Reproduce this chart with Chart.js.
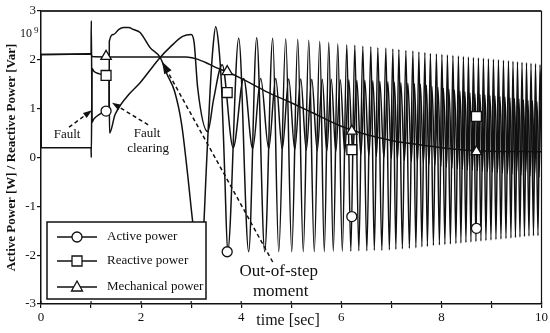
<!DOCTYPE html>
<html lang="en">
<head>
<meta charset="UTF-8" />
<title>Active / Reactive / Mechanical power</title>
<script src="https://cdn.jsdelivr.net/npm/chart.js"></script>
<style>
  html, body { margin: 0; padding: 0; background: #fff; }
  canvas { display: block; }
</style>
</head>
<body>
<canvas id="powerChart" width="550" height="333"></canvas>
<script>
// ---- data (values in 10^9) ----
const timeActive = [
  0, 1.0, 1.005, 1.02, 1.05, 1.12, 1.22, 1.3, 1.36, 1.365,
  1.45, 1.55, 1.65, 1.75, 1.85, 1.98, 2.18, 2.38, 2.52, 2.67,
  2.81, 2.93, 3.03, 3.1, 3.17, 3.24, 3.3, 3.38, 3.44, 3.49,
  3.55, 3.61, 3.67, 3.73,
  3.95, 4.15, 4.31, 4.47, 4.63, 4.75, 4.89, 5.01, 5.13, 5.24,
  5.35, 5.46, 5.57, 5.66, 5.75, 5.84, 5.93, 6.02, 6.11, 6.19,
  6.27, 6.35, 6.43, 6.51, 6.59, 6.66, 6.73, 6.81, 6.89, 6.96,
  7.03, 7.09, 7.15, 7.22, 7.29, 7.36, 7.43, 7.49, 7.55, 7.61,
  7.67, 7.72, 7.78, 7.84, 7.90, 7.96, 8.01, 8.07, 8.12, 8.18,
  8.23, 8.29, 8.34, 8.39, 8.44, 8.49, 8.54, 8.59, 8.64, 8.69,
  8.74, 8.79, 8.84, 8.89, 8.94, 8.99, 9.04, 9.09, 9.14, 9.19,
  9.24, 9.29, 9.34, 9.39, 9.43, 9.48, 9.52, 9.57, 9.61, 9.66,
  9.70, 9.75, 9.79, 9.84, 9.88, 9.93, 9.97, 10
];
const active = [
  2.11, 2.13, 2.8, 0.72, 0.78, 0.85, 0.92, 0.97, 1.0, 2.38,
  2.52, 2.62, 2.66, 2.66, 2.62, 2.56, 2.25, 2.05, 1.7, 1.35,
  0.68, -0.35, -1.31, -1.85, -1.92, -1.6, -0.3, 1.4, 2.3, 2.68,
  2.3, 1.4, -0.3, -1.93,
  2.44, -1.93, 2.45, -1.93, 2.44, -1.93, 2.43, -1.93, 2.42, -1.93,
  2.40, -1.93, 2.38, -1.93, 2.36, -1.92, 2.33, -1.92, 2.31, -1.92,
  2.30, -1.91, 2.28, -1.91, 2.27, -1.90, 2.25, -1.90, 2.24, -1.89,
  2.22, -1.88, 2.21, -1.87, 2.19, -1.86, 2.18, -1.85, 2.16, -1.83,
  2.15, -1.82, 2.13, -1.80, 2.12, -1.79, 2.11, -1.78, 2.10, -1.77,
  2.09, -1.76, 2.08, -1.75, 2.07, -1.74, 2.06, -1.73, 2.05, -1.72,
  2.04, -1.71, 2.03, -1.70, 2.02, -1.69, 2.01, -1.68, 2.00, -1.67,
  1.99, -1.66, 1.98, -1.65, 1.97, -1.64, 1.96, -1.63, 1.95, -1.62,
  1.94, -1.61, 1.93, -1.60, 1.92, -1.60, 1.90, 0.60
];

const timeReactive = [
  0, 0.005, 1.0, 1.005, 1.02, 1.06, 1.15, 1.3, 1.36, 1.37,
  1.48, 1.72, 1.98, 2.24, 2.38, 2.57, 2.83, 3.0, 3.06, 3.13,
  3.33, 3.45, 3.62,
  3.84, 4.05, 4.23, 4.39, 4.55, 4.69, 4.82, 4.95, 5.07, 5.19,
  5.30, 5.41, 5.52, 5.62, 5.71, 5.80, 5.89, 5.98, 6.07, 6.15,
  6.23, 6.31, 6.39, 6.47, 6.55, 6.63, 6.70, 6.77, 6.85, 6.93,
  7.00, 7.06, 7.12, 7.19, 7.26, 7.33, 7.40, 7.46, 7.52, 7.58,
  7.64, 7.70, 7.75, 7.81, 7.87, 7.93, 7.99, 8.04, 8.10, 8.15,
  8.21, 8.26, 8.32, 8.37, 8.42, 8.47, 8.52, 8.57, 8.62, 8.67,
  8.72, 8.77, 8.82, 8.87, 8.92, 8.97, 9.02, 9.07, 9.12, 9.17,
  9.22, 9.27, 9.32, 9.37, 9.41, 9.46, 9.50, 9.55, 9.59, 9.64,
  9.68, 9.73, 9.77, 9.82, 9.86, 9.91, 9.95, 9.99, 10
];
const reactive = [
  2.11, 0.2, 0.2, 0.0, 1.82, 1.76, 1.72, 1.68, 1.62, 0.5,
  0.88, 1.25, 1.53, 1.87, 2.05, 2.25, 2.48, 2.52, 2.35, 1.43,
  0.53, 1.2, 1.9,
  0.20, 1.62, 0.18, 1.62, 0.18, 1.62, 0.17, 1.61, 0.16, 1.61,
  0.15, 1.60, 0.14, 1.60, 0.13, 1.60, 0.12, 1.59, 0.10, 1.59,
  0.08, 1.58, 0.06, 1.58, 0.04, 1.57, 0.02, 1.56, 0.00, 1.55,
  -0.02, 1.54, -0.04, 1.53, -0.06, 1.52, -0.08, 1.51, -0.10, 1.50,
  -0.12, 1.48, -0.14, 1.46, -0.16, 1.44, -0.18, 1.42, -0.20, 1.40,
  -0.22, 1.38, -0.23, 1.36, -0.24, 1.34, -0.25, 1.32, -0.26, 1.30,
  -0.27, 1.29, -0.28, 1.28, -0.29, 1.27, -0.30, 1.26, -0.31, 1.25,
  -0.32, 1.24, -0.33, 1.22, -0.34, 1.21, -0.35, 1.20, -0.36, 1.18,
  -0.37, 1.17, -0.38, 1.16, -0.39, 1.14, -0.40, 1.12, 1.0
];

const timeMech = [0, 1.0, 1.02, 1.36, 2.9, 3.1, 3.3, 3.5, 3.75, 4.0, 4.5, 5.0, 5.5, 6.0, 6.5, 7.0, 7.5, 8.0, 8.5, 9.0, 10];
const mechanical = [2.11, 2.12, 2.07, 2.06, 2.06, 2.02, 1.94, 1.84, 1.74, 1.62, 1.35, 1.12, 0.88, 0.64, 0.47, 0.35, 0.27, 0.2, 0.15, 0.13, 0.12];

// marker positions
const markerTime = [1.3, 3.72, 6.21, 8.7];
const activeMarks = [0.95, -1.93, -1.21, -1.45];
const reactiveMarks = [1.68, 1.33, 0.16, 0.84];
const mechMarks = [2.07, 1.76, 0.54, 0.12];

const xTicks = [0, 2, 4, 6, 8, 10];
const legendNames = ['Active power', 'Reactive power', 'Mechanical power'];

const SERIF = "'Liberation Serif', 'Times New Roman', serif";

function pts(ts, vs) { return ts.map((t, i) => ({ x: t, y: vs[i] })); }

const lineStyle = {
  borderColor: '#111', borderWidth: 1.5, pointRadius: 0,
  cubicInterpolationMode: 'monotone', fill: false, order: 1
};
const markStyle = {
  showLine: false, pointBackgroundColor: '#fff', pointBorderColor: '#111',
  pointBorderWidth: 1.3, order: 0
};

function arrow(ctx, x1, y1, x2, y2, head) {
  ctx.save();
  ctx.setLineDash([4, 3]);
  ctx.lineWidth = 1.5;
  const ang = Math.atan2(y2 - y1, x2 - x1);
  const ex = x2 - Math.cos(ang) * head * 0.8, ey = y2 - Math.sin(ang) * head * 0.8;
  ctx.beginPath(); ctx.moveTo(x1, y1); ctx.lineTo(ex, ey); ctx.stroke();
  ctx.setLineDash([]);
  ctx.beginPath();
  ctx.moveTo(x2, y2);
  ctx.lineTo(x2 - Math.cos(ang) * head + Math.sin(ang) * head * 0.35, y2 - Math.sin(ang) * head - Math.cos(ang) * head * 0.35);
  ctx.lineTo(x2 - Math.cos(ang) * head - Math.sin(ang) * head * 0.35, y2 - Math.sin(ang) * head + Math.cos(ang) * head * 0.35);
  ctx.closePath(); ctx.fill();
  ctx.restore();
}

const overlay = {
  id: 'overlay',
  afterDraw(chart) {
    const { ctx, chartArea: a, scales: { x, y } } = chart;
    const X = v => x.getPixelForValue(v), Y = v => y.getPixelForValue(v);
    ctx.save();
    ctx.fillStyle = '#111'; ctx.strokeStyle = '#111';

    // frame: top and right
    ctx.strokeStyle = '#333'; ctx.lineWidth = 2;
    ctx.beginPath(); ctx.moveTo(a.left, a.top); ctx.lineTo(a.right, a.top); ctx.stroke();
    ctx.strokeStyle = '#111'; ctx.lineWidth = 1.2;
    ctx.beginPath(); ctx.moveTo(a.right, a.top); ctx.lineTo(a.right, a.bottom); ctx.stroke();

    // small ticks reaching into the plot on the x axis
    ctx.lineWidth = 1.2;
    for (let t = 0; t <= 10; t++) {
      ctx.beginPath(); ctx.moveTo(X(t), a.bottom); ctx.lineTo(X(t), a.bottom - 3); ctx.stroke();
    }

    // 10^9 exponent
    ctx.textBaseline = 'alphabetic';
    ctx.textAlign = 'right';
    ctx.font = '12px ' + SERIF;
    ctx.fillText('10', 32, 37);
    ctx.textAlign = 'left';
    ctx.font = '9px ' + SERIF;
    ctx.fillText('9', 34, 33);

    // annotations
    ctx.textAlign = 'center'; ctx.textBaseline = 'middle';
    ctx.font = '13px ' + SERIF;
    ctx.fillText('Fault', X(0.52), Y(0.46));
    ctx.fillText('Fault', X(2.12), Y(0.50));
    ctx.fillText('clearing', X(2.14), Y(0.19));
    arrow(ctx, X(0.56), Y(0.62), X(1.02), Y(0.97), 9);
    arrow(ctx, X(2.14), Y(0.67), X(1.42), Y(1.12), 9);
    ctx.font = '17px ' + SERIF;
    ctx.fillText('Out-of-step', X(4.75), Y(-2.34));
    ctx.fillText('moment', X(4.79), Y(-2.75));
    arrow(ctx, X(4.63), Y(-2.14), X(2.42), Y(1.96), 12);

    // legend
    const lx = 47, ly = 222, lw = 159, lh = 77;
    ctx.fillStyle = '#fff';
    ctx.fillRect(lx, ly, lw, lh);
    ctx.lineWidth = 1.5; ctx.strokeStyle = '#111';
    ctx.strokeRect(lx, ly, lw, lh);
    const rows = [237, 261, 287];
    ctx.font = '13px ' + SERIF; ctx.textAlign = 'left';
    rows.forEach((ry, i) => {
      ctx.lineWidth = 1.5;
      ctx.beginPath(); ctx.moveTo(57, ry); ctx.lineTo(97, ry); ctx.stroke();
      ctx.fillStyle = '#fff'; ctx.lineWidth = 1.3;
      ctx.beginPath();
      if (i === 0) ctx.arc(77, ry, 5, 0, Math.PI * 2);
      else if (i === 1) ctx.rect(72, ry - 5, 10, 10);
      else { ctx.moveTo(77, ry - 6); ctx.lineTo(82.5, ry + 4); ctx.lineTo(71.5, ry + 4); ctx.closePath(); }
      ctx.fill(); ctx.stroke();
      ctx.fillStyle = '#111';
      ctx.fillText(legendNames[i], 107, ry);
    });

    // x-axis title
    ctx.font = '16px ' + SERIF; ctx.textAlign = 'center';
    ctx.fillText('time [sec]', 288, 321);
    ctx.restore();
  }
};

new Chart(document.getElementById('powerChart'), {
  type: 'line',
  data: {
    datasets: [
      Object.assign({ data: pts(markerTime, activeMarks), pointStyle: 'circle', pointRadius: 5 }, markStyle),
      Object.assign({ data: pts(markerTime, reactiveMarks), pointStyle: 'rect', pointRadius: 7 }, markStyle),
      Object.assign({ data: pts(markerTime, mechMarks), pointStyle: 'triangle', pointRadius: 6 }, markStyle),
      Object.assign({ data: pts(timeActive, active) }, lineStyle),
      Object.assign({ data: pts(timeReactive, reactive) }, lineStyle),
      Object.assign({ data: pts(timeMech, mechanical) }, lineStyle)
    ]
  },
  options: {
    responsive: false,
    animation: false,
    devicePixelRatio: 1,
    layout: { padding: { top: 11, right: 8, left: 0, bottom: 0 } },
    plugins: { legend: { display: false }, tooltip: { enabled: false } },
    scales: {
      x: {
        type: 'linear', min: 0, max: 10,
        afterFit(s) { s.height = 29; },
        grid: { drawOnChartArea: false, tickLength: 4, color: '#111', lineWidth: 1.2 },
        border: { display: true, color: '#111', width: 1.5 },
        ticks: {
          stepSize: 1, autoSkip: false, maxRotation: 0, padding: 2,
          color: '#111', font: { family: SERIF, size: 13 },
          callback: v => xTicks.includes(v) ? String(v) : ''
        }
      },
      y: {
        min: -3, max: 3,
        afterFit(s) { s.width = 41; },
        grid: { drawOnChartArea: false, tickLength: 4, color: '#111', lineWidth: 1.2 },
        border: { display: true, color: '#111', width: 1.5 },
        ticks: { stepSize: 1, padding: 1, color: '#111', font: { family: SERIF, size: 13 } },
        title: {
          display: true, text: 'Active Power [W] / Reactive Power [Var]',
          color: '#111', font: { family: SERIF, size: 13, weight: 'bold' }, padding: { top: 4, bottom: 0 }
        }
      }
    }
  },
  plugins: [overlay]
});
</script>
</body>
</html>
